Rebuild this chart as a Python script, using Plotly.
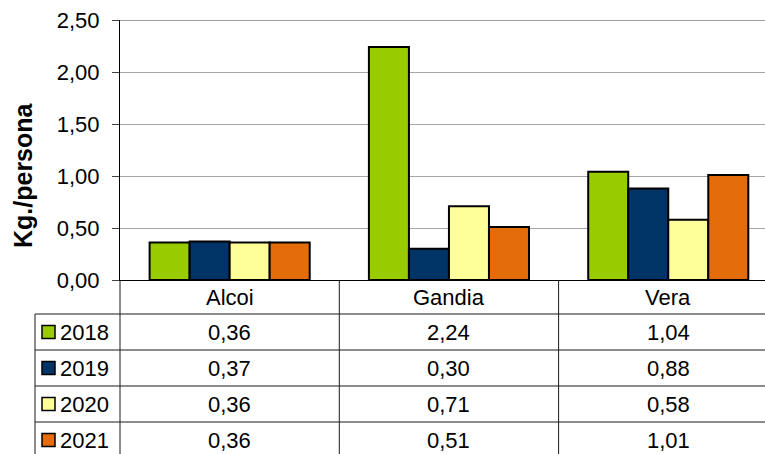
import plotly.graph_objects as go

categories = ["Alcoi", "Gandia", "Vera"]
years = ["2018", "2019", "2020", "2021"]
values_2018 = [0.36, 2.24, 1.04]
values_2019 = [0.37, 0.30, 0.88]
values_2020 = [0.36, 0.71, 0.58]
values_2021 = [0.36, 0.51, 1.01]
series = [values_2018, values_2019, values_2020, values_2021]
colors = ["#99CC00", "#003366", "#FFFF99", "#E46C0A"]
y_ticks = [0, 0.5, 1.0, 1.5, 2.0, 2.5]

W, H = 765, 454
ML, MR, MT, MB = 120, 0, 20, 174
PW, PH = W - ML - MR, H - MT - MB
FONT = "Liberation Sans, Arial, sans-serif"
FS = 22

cat_px = 219.3
x_min = -0.5
x_max = x_min + PW / cat_px


def px_x(p):
    return (p - ML) / PW


def px_y(p):
    return (MT + PH - p) / PH


def data_x_paper(v):
    return (v - x_min) / (x_max - x_min)


def fmt(v):
    return f"{v:.2f}".replace(".", ",")


fig = go.Figure()
for yr, vals, col in zip(years, series, colors):
    fig.add_trace(go.Bar(
        x=list(range(len(categories))), y=vals, name=yr,
        marker=dict(color=col, line=dict(color="black", width=2)),
    ))

shapes = []
line_col = "#1a1a1a"
row_edges = [314, 350, 386, 422]
row_centers = [332, 368, 404, 440]
shapes.append(dict(type="line", xref="paper", yref="y", x0=0, x1=1, y0=2.5, y1=2.5,
                   line=dict(color="#808080", width=1.5)))
shapes.append(dict(type="line", xref="paper", yref="paper", x0=0, x1=0,
                   y0=px_y(280), y1=px_y(H + 5), line=dict(color=line_col, width=1)))
for b in [0.5, 1.5]:
    xp = data_x_paper(b)
    shapes.append(dict(type="line", xref="paper", yref="paper", x0=xp, x1=xp,
                       y0=px_y(280), y1=px_y(H + 5), line=dict(color=line_col, width=1)))
shapes.append(dict(type="line", xref="paper", yref="paper", x0=px_x(35), x1=px_x(35),
                   y0=px_y(314), y1=px_y(H + 5), line=dict(color=line_col, width=1)))
for r in row_edges:
    shapes.append(dict(type="line", xref="paper", yref="paper", x0=px_x(35), x1=1,
                       y0=px_y(r), y1=px_y(r), line=dict(color=line_col, width=1)))

tfont = dict(size=FS, color="black", family=FONT)
annotations = []
for i, c in enumerate(categories):
    annotations.append(dict(x=i, y=px_y(297), xref="x", yref="paper", text=c,
                            xanchor="center", yanchor="middle",
                            showarrow=False, font=tfont))
for j, (yr, vals, col) in enumerate(zip(years, series, colors)):
    yc = row_centers[j]
    shapes.append(dict(type="rect", xref="paper", yref="paper",
                       x0=px_x(42), x1=px_x(55), y0=px_y(yc + 6.5), y1=px_y(yc - 6.5),
                       fillcolor=col, line=dict(color="black", width=1.5)))
    annotations.append(dict(x=px_x(58), y=px_y(yc), xref="paper", yref="paper", text=yr,
                            xanchor="left", yanchor="middle", showarrow=False, font=tfont))
    for i, v in enumerate(vals):
        annotations.append(dict(x=i, y=px_y(yc), xref="x", yref="paper", text=fmt(v),
                                xanchor="center", yanchor="middle",
                                showarrow=False, font=tfont))

annotations.append(dict(x=px_x(23), y=px_y(175), xref="paper", yref="paper",
                        text="<b>Kg./persona</b>", textangle=-90, showarrow=False,
                        xanchor="center", yanchor="middle",
                        font=dict(size=25, color="black", family=FONT)))

fig.update_layout(
    width=W, height=H,
    margin=dict(l=ML, r=MR, t=MT, b=MB, pad=0),
    paper_bgcolor="white", plot_bgcolor="white",
    separators=",.",
    barmode="group", bargap=0.27, bargroupgap=0,
    showlegend=False,
    font=dict(family=FONT, color="black", size=FS),
    xaxis=dict(range=[x_min, x_max], showticklabels=False, showgrid=False,
               showline=True, linecolor="black", linewidth=1, zeroline=False, ticks=""),
    yaxis=dict(range=[0, 2.5], tickvals=y_ticks, tickformat=".2f",
               showgrid=True, gridcolor="#a6a6a6", gridwidth=1,
               showline=True, linecolor="black", linewidth=1,
               ticks="outside", ticklen=7, tickcolor="#404040",
               ticklabelstandoff=8,
               zeroline=False, tickfont=tfont),
    shapes=shapes, annotations=annotations,
)

fig.write_html("out.html", config={"displayModeBar": False},
               post_script="document.body.style.margin='0';")
